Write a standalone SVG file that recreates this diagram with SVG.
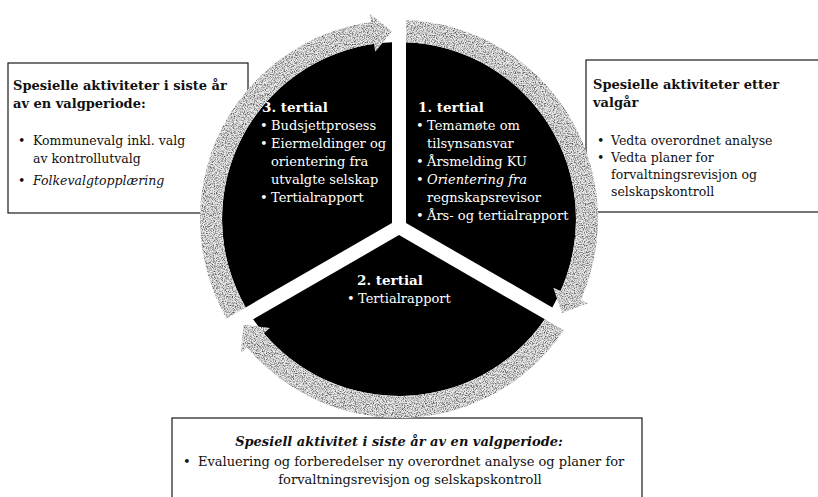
<svg xmlns="http://www.w3.org/2000/svg" width="818" height="497" viewBox="0 0 818 497">
<defs>
<style>
.box{fill:#fff;stroke:#1a1a1a;stroke-width:1.2}
.seg{fill:#000}
.t{font-family:"DejaVu Serif","Liberation Serif",serif;fill:#111}
.h{font-weight:bold;font-size:13px}
.r{font-size:12.5px}
.rb{font-size:13px}
.w{font-family:"DejaVu Serif","Liberation Serif",serif;fill:#fff;font-size:13px}
.wh{font-weight:bold;font-size:13.5px}
.it{font-style:italic}
.ring{fill:#e8e8e8}
</style>
<filter id="grain" x="-5%" y="-5%" width="110%" height="110%" color-interpolation-filters="sRGB">
<feTurbulence type="fractalNoise" baseFrequency="0.9" numOctaves="2" seed="7" result="noise"/>
<feColorMatrix in="noise" type="matrix" values="0 0 0 0 0.3 0 0 0 0 0.3 0 0 0 0 0.3 2.6 0 0 0 -1.1" result="dots"/>
<feComposite in="dots" in2="SourceAlpha" operator="in" result="clipped"/>
<feMerge><feMergeNode in="SourceGraphic"/><feMergeNode in="clipped"/></feMerge>
</filter>
</defs>
<rect width="818" height="497" fill="#fff"/>

<g id="box-left">
<rect class="box" x="8" y="63" width="240" height="150"/>
<text class="t h" x="13" y="90">Spesielle aktiviteter i siste år</text>
<text class="t h" x="13" y="108">av en valgperiode:</text>
<text class="t r" x="18" y="145">•</text>
<text class="t r" x="33" y="145">Kommunevalg inkl. valg</text>
<text class="t r" x="33" y="163">av kontrollutvalg</text>
<text class="t r" x="18" y="185">•</text>
<text class="t r it" x="33" y="185">Folkevalgtopplæring</text>
</g>

<g id="box-right">
<rect class="box" x="586" y="60" width="250" height="152"/>
<text class="t h" x="593" y="89">Spesielle aktiviteter etter</text>
<text class="t h" x="593" y="107">valgår</text>
<text class="t r" x="597" y="145">•</text>
<text class="t r" x="611" y="145">Vedta overordnet analyse</text>
<text class="t r" x="597" y="162">•</text>
<text class="t r" x="611" y="162">Vedta planer for</text>
<text class="t r" x="611" y="179">forvaltningsrevisjon og</text>
<text class="t r" x="611" y="196">selskapskontroll</text>
</g>

<g id="box-bottom">
<rect class="box" x="172" y="418" width="470" height="90"/>
<text class="t h it" x="399" y="446" text-anchor="middle">Spesiell aktivitet i siste år av en valgperiode:</text>
<text class="t rb" x="183" y="466">•</text>
<text class="t rb" x="198" y="466">Evaluering og forberedelser ny overordnet analyse og planer for</text>
<text class="t rb" x="410" y="484" text-anchor="middle">forvaltningsrevisjon og selskapskontroll</text>
</g>

<g id="tertial-3">
<path class="seg" d="M245.7,307.4 A177,177 0 0 1 392,42.14 L392,223 Z"/>
<text class="w wh" x="262" y="112">3. tertial</text>
<text class="w" x="260" y="130">•</text>
<text class="w" x="271" y="130">Budsjettprosess</text>
<text class="w" x="260" y="148">•</text>
<text class="w" x="271" y="148">Eiermeldinger og</text>
<text class="w" x="271" y="166">orientering fra</text>
<text class="w" x="271" y="184">utvalgte selskap</text>
<text class="w" x="260" y="202">•</text>
<text class="w" x="271" y="202">Tertialrapport</text>
</g>

<g id="tertial-1">
<path class="seg" d="M406,42.14 A177,177 0 0 1 552.3,307.4 L406,223 Z"/>
<text class="w wh" x="418" y="112">1. tertial</text>
<text class="w" x="416" y="130">•</text>
<text class="w" x="427" y="130">Temamøte om</text>
<text class="w" x="427" y="148">tilsynsansvar</text>
<text class="w" x="416" y="166">•</text>
<text class="w" x="427" y="166">Årsmelding KU</text>
<text class="w" x="416" y="184">•</text>
<text class="w it" x="427" y="184">Orientering fra</text>
<text class="w" x="427" y="202">regnskapsrevisor</text>
<text class="w" x="416" y="220">•</text>
<text class="w" x="427" y="220">Års- og tertialrapport</text>
</g>

<g id="tertial-2">
<path class="seg" d="M544.85,319.28 A177,177 0 0 1 253.15,319.28 L399,235.1 Z"/>
<text class="w wh" x="357" y="285">2. tertial</text>
<text class="w" x="347" y="303">•</text>
<text class="w" x="358" y="303">Tertialrapport</text>
</g>

<g id="connectors" filter="url(#grain)">
<path class="ring" d="M406,20.12 A199,199 0 0 1 580.8,299.9 L588.1,303.2 L561.85,312.94 L553.4,287.7 L560.7,291 A177,177 0 0 0 406,42.14 Z"/>
<path class="ring" d="M563.9,330.3 A199,199 0 0 1 247,347.4 L240.9,352.6 L243.6,324.8 L269.9,328.1 L263.8,333.2 A177,177 0 0 0 544.85,319.28 Z"/>
<path class="ring" d="M226.6,318.4 A199,199 0 0 1 371,22 L369.8,14.1 L392,31.13 L375.2,51.7 L374.1,43.8 A177,177 0 0 0 245.7,307.4 Z"/>
</g>
</svg>
